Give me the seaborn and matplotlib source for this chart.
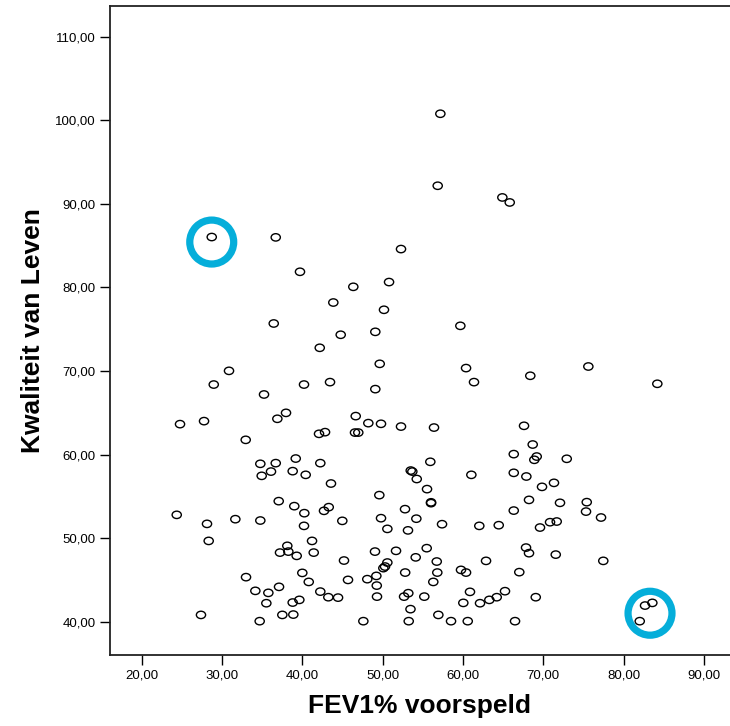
import numpy as np
import pandas as pd
import matplotlib
matplotlib.use("Agg")
import matplotlib.pyplot as plt
import seaborn as sns
from matplotlib.path import Path
from matplotlib.transforms import Affine2D

# FEV1% voorspeld (x) and Kwaliteit van Leven (y)
fev1 = [
    57.19, 56.86, 64.91, 65.83,
    28.72, 36.69, 52.29, 39.71, 46.35, 50.80, 43.86, 50.17, 36.44, 44.78, 49.09,
    42.17, 49.64, 30.87, 28.97, 40.21, 43.45, 49.09, 35.23, 37.97, 36.89, 24.77,
    27.76, 46.65, 48.22, 49.80, 52.29, 42.08, 42.83, 46.56, 46.97, 32.95,
    59.68, 60.39, 61.38, 68.39, 75.62, 84.21, 56.40, 67.61,
    34.77, 36.69, 39.18, 42.24, 36.10, 34.94, 38.80, 40.42, 43.57, 53.50, 53.70,
    54.25, 49.59, 37.06, 39.00, 40.25, 43.29, 42.70, 24.36, 28.13, 31.66, 34.77,
    40.21, 44.98, 49.80, 50.59, 52.79, 53.16, 54.20, 28.34, 41.21, 38.13, 37.22,
    38.26, 39.30, 41.42, 49.05, 51.67, 54.12, 45.19, 50.59, 50.30, 50.09, 52.81,
    40.00, 40.80, 45.69, 48.09, 49.22, 49.27, 49.30, 32.99, 34.15, 35.77, 37.10,
    35.52, 38.80, 39.63, 42.24, 43.24, 44.45, 27.38, 34.69, 37.51, 38.88, 47.60,
    52.67, 53.20, 53.47, 53.25,
    68.69, 66.33, 69.19, 68.89, 72.93, 55.94, 61.05, 66.33, 67.90, 69.85, 71.34,
    55.53, 56.03, 56.03, 57.40, 62.04, 64.46, 66.33, 68.23, 72.09, 69.60, 70.85,
    71.68, 75.42, 75.33, 77.20, 77.48, 67.86, 68.23, 71.56, 55.49, 56.74, 56.81,
    56.31, 59.76, 60.39, 62.88, 67.02, 55.19, 60.88, 60.05, 62.13, 63.29, 64.21,
    65.24, 69.07, 56.94, 58.52, 60.60, 66.49, 82.68, 83.59, 82.02,
]
kwaliteit = [
    100.80, 92.18, 90.78, 90.18,
    86.04, 86.00, 84.60, 81.88, 80.08, 80.65, 78.20, 77.33, 75.69, 74.34, 74.69,
    72.78, 70.86, 70.02, 68.38, 68.38, 68.67, 67.83, 67.19, 64.99, 64.28, 63.64,
    64.00, 64.60, 63.76, 63.68, 63.35, 62.48, 62.68, 62.63, 62.63, 61.76,
    75.41, 70.35, 68.67, 69.43, 70.54, 68.47, 63.23, 63.44,
    58.89, 58.97, 59.52, 58.97, 57.96, 57.45, 58.01, 57.57, 56.53, 58.08, 57.96,
    57.07, 55.14, 54.42, 53.82, 52.98, 53.70, 53.26, 52.78, 51.70, 52.26, 52.10,
    51.46, 52.06, 52.38, 51.10, 53.46, 50.92, 52.32, 49.66, 49.66, 49.07, 48.26,
    48.38, 47.87, 48.26, 48.38, 48.47, 47.69, 47.31, 47.07, 46.59, 46.40, 45.87,
    45.83, 44.75, 44.99, 45.08, 45.47, 44.31, 42.99, 45.32, 43.68, 43.44, 44.16,
    42.20, 42.28, 42.60, 43.59, 42.92, 42.87, 40.80, 40.05, 40.80, 40.84, 40.05,
    42.99, 43.40, 41.49, 40.05,
    61.20, 60.05, 59.76, 59.37, 59.49, 59.13, 57.57, 57.81, 57.37, 56.13, 56.61,
    55.86, 54.18, 54.28, 51.66, 51.46, 51.54, 53.29, 54.57, 54.22, 51.26, 51.90,
    51.98, 54.30, 53.17, 52.46, 47.27, 48.86, 48.19, 48.02, 48.79, 47.19, 45.87,
    44.75, 46.19, 45.87, 47.27, 45.92, 42.99, 43.56, 42.24, 42.20, 42.60, 42.92,
    43.64, 42.92, 40.80, 40.05, 40.05, 40.05, 41.92, 42.24, 40.05,
]

# highlighted (circled) cases
highlight_x = [28.72, 83.30]
highlight_y = [85.44, 41.00]

x_ticks = [20, 30, 40, 50, 60, 70, 80, 90]
y_ticks = [40, 50, 60, 70, 80, 90, 100, 110]

df = pd.DataFrame({"FEV1": fev1, "KvL": kwaliteit})
hl = pd.DataFrame({"FEV1": highlight_x, "KvL": highlight_y})

sns.set_style("white")
plt.rcParams["font.family"] = ["Liberation Sans", "DejaVu Sans"]

fig = plt.figure(figsize=(7.3, 7.26), dpi=100)
ax = fig.add_axes([110 / 730, 71 / 726, 620 / 730, 649 / 726])

ell = Path.unit_circle().transformed(Affine2D().scale(1.0, 0.8))

sns.scatterplot(data=df, x="FEV1", y="KvL", ax=ax, marker=ell, s=44,
                facecolor="none", edgecolor="black", linewidth=1.0,
                legend=False, zorder=3)
sns.scatterplot(data=hl, x="FEV1", y="KvL", ax=ax, marker="o", s=1000,
                facecolor="none", edgecolor="#05AEDA", linewidth=5.2,
                legend=False, zorder=4)

ax.set_xlim(16.05, 93.26)
ax.set_ylim(36.0, 113.7)
ax.set_xticks(x_ticks)
ax.set_yticks(y_ticks)
ax.set_xticklabels([f"{v:.2f}".replace(".", ",") for v in x_ticks], fontsize=9.5)
ax.set_yticklabels([f"{v:.2f}".replace(".", ",") for v in y_ticks], fontsize=9.5)

for s in ["left", "bottom", "top"]:
    ax.spines[s].set_visible(True)
    ax.spines[s].set_color("#222222")
    ax.spines[s].set_linewidth(1.3)
ax.spines["right"].set_visible(False)

ax.tick_params(axis="both", which="major", direction="out", length=7.5,
               width=1.0, color="black", labelcolor="black",
               bottom=True, left=True, top=False, right=False)
ax.tick_params(axis="x", pad=3)
ax.tick_params(axis="y", pad=3)

ax.set_xlabel("FEV1% voorspeld", fontsize=19, fontweight="bold",
              color="black", labelpad=9)
ax.set_ylabel("Kwaliteit van Leven", fontsize=19, fontweight="bold",
              color="black", labelpad=7)
ax.grid(False)

fig.savefig("out.png", dpi=100)
